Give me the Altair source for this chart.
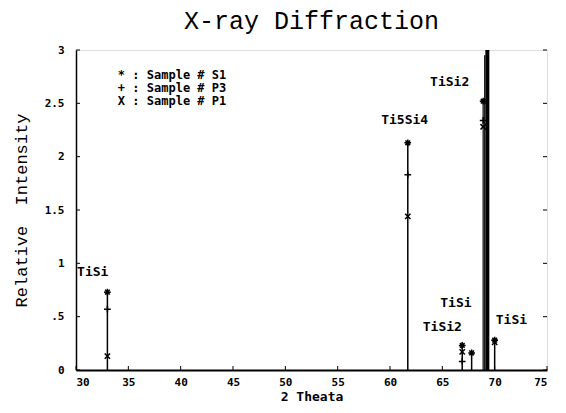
import altair as alt
import pandas as pd

# ---- data ----
peak_pos = [33.0, 61.7, 66.9, 67.8, 68.9, 69.05, 69.3, 70.0]
peak_height = [0.73, 2.13, 0.23, 0.16, 2.52, 2.95, 3.0, 0.28]
peak_width = [1.5, 1.5, 1.5, 1.5, 1.2, 1.2, 4.0, 1.5]
s1_vals = [0.73, 2.13, 0.23, 0.16, 2.52, None, None, 0.28]
p3_vals = [0.57, 1.83, 0.08, None, 2.34, None, None, None]
p1_vals = [0.13, 1.44, 0.17, None, 2.28, None, None, 0.26]

series_names = ["S1", "P3", "P1"]
legend_lines = ["* : Sample # S1", "+ : Sample # P3", "X : Sample # P1"]
legend_y = [2.77, 2.645, 2.52]
legend_x = [34.0, 34.0, 34.0]

label_text = ["TiSi", "Ti5Si4", "TiSi2", "TiSi", "TiSi2", "TiSi"]
label_x = [31.6, 61.4, 65.7, 66.3, 65.0, 71.6]
label_y = [0.92, 2.34, 2.70, 0.63, 0.40, 0.47]

x_ticks = [30, 35, 40, 45, 50, 55, 60, 65, 70, 75]
y_ticks = [0, 0.5, 1, 1.5, 2, 2.5, 3]

W, H = 471, 320

peaks = pd.DataFrame({"pos": peak_pos, "h": peak_height, "w": peak_width, "base": 0.0})
rows = []
for name, vals in zip(series_names, [s1_vals, p3_vals, p1_vals]):
    for p, v in zip(peak_pos, vals):
        if v is not None:
            rows.append({"pos": p, "val": v, "sample": name})
marks_df = pd.DataFrame(rows)
legend_df = pd.DataFrame({"x": legend_x, "y": legend_y, "t": legend_lines})
labels_df = pd.DataFrame({"x": label_x, "y": label_y, "t": label_text})
xt = pd.DataFrame({"v": x_ticks})
yt = pd.DataFrame({"v": y_ticks})

xscale = alt.Scale(domain=[30, 75], nice=False, zero=False)
yscale = alt.Scale(domain=[0, 3], nice=False)

MONO = "DejaVu Sans Mono"
THIN = "Liberation Mono"

lines = alt.Chart(peaks).mark_rule(color="black", clip=False).encode(
    x=alt.X("pos:Q", scale=xscale,
            axis=alt.Axis(values=x_ticks, title="2 Theata", grid=False, ticks=False,
                          labelFont=MONO, labelFontWeight="bold", labelFontSize=11,
                          labelPadding=6, titleFont=MONO, titleFontWeight="bold",
                          titleFontSize=13, titlePadding=3, domainWidth=2,
                          domainColor="black", labelColor="black", titleColor="black")),
    y=alt.Y("base:Q", scale=yscale,
            axis=alt.Axis(values=y_ticks, title="Relative\u00a0\u00a0Intensity", grid=False, ticks=False,
                          labelExpr="datum.value == 0 ? '0' : datum.value == 0.5 ? '.5' : format(datum.value, '')",
                          labelFont=MONO, labelFontWeight="bold", labelFontSize=11,
                          labelPadding=12, titleFont=THIN, titleFontWeight="normal",
                          titleFontSize=17, titlePadding=14, domainWidth=1.5,
                          domainColor="black", labelColor="black", titleColor="black")),
    y2="h:Q",
    strokeWidth=alt.StrokeWidth("w:Q", scale=None, legend=None),
)

ast_path = "M-1,0L1,0M0,-1L0,1M-0.7,-0.7L0.7,0.7M-0.7,0.7L0.7,-0.7"
plus_path = "M-1,0L1,0M0,-1L0,1"
x_path = "M-0.8,-0.8L0.8,0.8M-0.8,0.8L0.8,-0.8"

pts = alt.Chart(marks_df).mark_point(filled=False, color="black", strokeWidth=1.5, size=45, opacity=1).encode(
    x=alt.X("pos:Q", scale=xscale),
    y=alt.Y("val:Q", scale=yscale),
    shape=alt.Shape("sample:N", scale=alt.Scale(domain=series_names, range=[ast_path, plus_path, x_path]), legend=None),
)

leg = alt.Chart(legend_df).mark_text(align="left", baseline="middle", font=MONO, fontSize=12,
                                     fontWeight="bold", color="black").encode(
    x=alt.X("x:Q", scale=xscale), y=alt.Y("y:Q", scale=yscale), text="t:N")

lab = alt.Chart(labels_df).mark_text(align="center", baseline="middle", font=MONO, fontSize=13,
                                     fontWeight="bold", color="black").encode(
    x=alt.X("x:Q", scale=xscale), y=alt.Y("y:Q", scale=yscale), text="t:N")

xticks_in = alt.Chart(xt).mark_rule(color="black", strokeWidth=1).encode(
    x=alt.X("v:Q", scale=xscale), y=alt.value(H), y2=alt.value(H - 4))
yticks_l = alt.Chart(yt).mark_rule(color="black", strokeWidth=1).encode(
    y=alt.Y("v:Q", scale=yscale), x=alt.value(0), x2=alt.value(4))
yticks_r = alt.Chart(yt).mark_rule(color="black", strokeWidth=1).encode(
    y=alt.Y("v:Q", scale=yscale), x=alt.value(W), x2=alt.value(W - 4))

chart = alt.layer(lines, xticks_in, yticks_l, yticks_r, pts, leg, lab).properties(
    width=W, height=H,
    title=alt.TitleParams("X-ray Diffraction", font=THIN, fontSize=25, fontWeight="normal",
                          color="black", anchor="middle", offset=10),
    autosize=alt.AutoSizeParams(type="none"),
    padding={"left": 68, "top": 42, "right": 11, "bottom": 35},
).configure_view(stroke="black", strokeWidth=2).configure(background="white")

chart.save("out.html", embed_options={"renderer": "svg", "actions": False})
